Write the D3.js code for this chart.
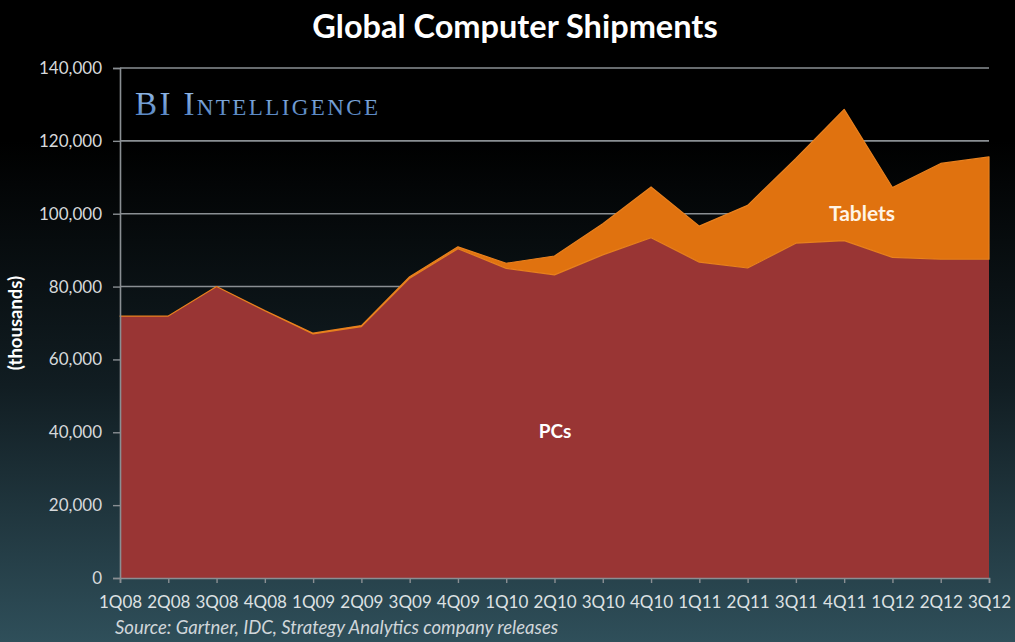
<!DOCTYPE html>
<html>
<head>
<meta charset="utf-8">
<script src="https://cdn.jsdelivr.net/npm/d3@7"></script>
<style>
  html, body { margin: 0; padding: 0; background: #000; }
  svg { display: block; }
</style>
</head>
<body>
<svg id="chart" width="1015" height="642"></svg>
<script>
// Quarterly shipments, thousands of units
const quarters = ["1Q08","2Q08","3Q08","4Q08","1Q09","2Q09","3Q09","4Q09","1Q10","2Q10",
                  "3Q10","4Q10","1Q11","2Q11","3Q11","4Q11","1Q12","2Q12","3Q12"];
const pcs     = [71900, 71900, 80000, 73400, 67000, 69000, 82300, 90400, 85000, 83200,
                 88700, 93400, 86700, 85100, 91900, 92600, 88000, 87500, 87500];
const tablets = [0, 0, 0, 0, 200, 300, 400, 500, 1400, 5200,
                 8550, 13950, 9900, 17200, 23250, 36050, 19200, 26300, 28100];
const yTicks  = [0, 20000, 40000, 60000, 80000, 100000, 120000, 140000];

const W = 1015, H = 642;
const svg = d3.select("#chart");

// background: black at the top fading into dark teal
const defs = svg.append("defs");
const bg = defs.append("linearGradient").attr("id", "bg")
  .attr("x1", 0).attr("y1", 0).attr("x2", 0).attr("y2", 1);
bg.append("stop").attr("offset", "0%").attr("stop-color", "#000000");
bg.append("stop").attr("offset", "22%").attr("stop-color", "#000000");
bg.append("stop").attr("offset", "60%").attr("stop-color", "#111d22");
bg.append("stop").attr("offset", "100%").attr("stop-color", "#2f4f5a");
svg.append("rect").attr("width", W).attr("height", H).attr("fill", "url(#bg)");

const bi = defs.append("linearGradient").attr("id", "bi")
  .attr("x1", 0).attr("y1", 0).attr("x2", 0).attr("y2", 1);
bi.append("stop").attr("offset", "0%").attr("stop-color", "#9cc2ee");
bi.append("stop").attr("offset", "100%").attr("stop-color", "#4a7bbb");

const x = d3.scalePoint().domain(quarters).range([120, 989]);
const y = d3.scaleLinear().domain([0, 140000]).range([578, 68]);

// gridlines
svg.append("g").selectAll("line").data(yTicks.filter(d => d > 0)).join("line")
  .attr("x1", 120).attr("x2", 989)
  .attr("y1", d => y(d)).attr("y2", d => y(d))
  .attr("stroke", "#8a8f93").attr("stroke-width", 1.6);

// stacked areas
const rows = quarters.map((q, i) => ({ q, PCs: pcs[i], Tablets: tablets[i] }));
const series = d3.stack().keys(["PCs", "Tablets"])(rows);
const colors = { PCs: "#993534", Tablets: "#e0720f" };
const area = d3.area()
  .x(d => x(d.data.q))
  .y0(d => y(d[0]))
  .y1(d => y(d[1]));

svg.append("g").selectAll("path").data(series).join("path")
  .attr("d", area)
  .attr("fill", d => colors[d.key])
  .attr("stroke", d => d.key === "Tablets" ? "#e8801e" : "none")
  .attr("stroke-width", 1.2)
  .attr("stroke-linejoin", "round");

// y axis
const yAxis = svg.append("g").attr("transform", "translate(120,0)")
  .call(d3.axisLeft(y).tickValues(yTicks).tickFormat(d3.format(",")).tickSize(7).tickPadding(11));
yAxis.select(".domain").attr("stroke", "#8a8f93").attr("stroke-width", 1.6);
yAxis.selectAll(".tick line").attr("stroke", "#8a8f93").attr("stroke-width", 1.4);
yAxis.selectAll("text").attr("fill", "#d6d9db")
  .style("font-family", "Lato, 'Open Sans', sans-serif").style("font-size", "17px");

// x axis
const xAxis = svg.append("g").attr("transform", "translate(0,578)")
  .call(d3.axisBottom(x).tickSize(5).tickPadding(13));
xAxis.select(".domain").attr("stroke", "#8a8f93").attr("stroke-width", 1.6);
xAxis.selectAll(".tick line").attr("stroke", "#8a8f93").attr("stroke-width", 1.4);
xAxis.selectAll("text").attr("fill", "#dde1e3")
  .style("font-family", "Lato, 'Open Sans', sans-serif").style("font-size", "17px");

// title
svg.append("text").attr("x", 515).attr("y", 38).attr("text-anchor", "middle")
  .attr("fill", "#ffffff").style("font-family", "Lato, 'Open Sans', sans-serif")
  .style("font-weight", "bold").style("font-size", "32.5px")
  .text("Global Computer Shipments");

// brand mark
svg.append("text").attr("x", 135).attr("y", 115)
  .attr("fill", "url(#bi)").style("font-family", "'Liberation Serif', 'DejaVu Serif', serif")
  .style("font-variant", "small-caps").style("font-size", "33px").style("letter-spacing", "2.4px")
  .text("BI Intelligence");

// y axis title
svg.append("text").attr("transform", "translate(22,323) rotate(-90)")
  .attr("text-anchor", "middle").attr("fill", "#ffffff")
  .style("font-family", "Lato, 'Open Sans', sans-serif").style("font-weight", "bold")
  .style("font-size", "18.5px").text("(thousands)");

// series labels
svg.append("text").attr("x", 862).attr("y", 221).attr("text-anchor", "middle")
  .attr("fill", "#fff4e6").style("font-family", "Lato, 'Open Sans', sans-serif")
  .style("font-weight", "bold").style("font-size", "21px").text("Tablets");
svg.append("text").attr("x", 555).attr("y", 438).attr("text-anchor", "middle")
  .attr("fill", "#ffffff").style("font-family", "Lato, 'Open Sans', sans-serif")
  .style("font-weight", "bold").style("font-size", "19px").text("PCs");

// source note
svg.append("text").attr("x", 115).attr("y", 634)
  .attr("fill", "#d0d6da").style("font-family", "Lato, 'Open Sans', sans-serif")
  .style("font-style", "italic").style("font-size", "18.5px")
  .text("Source: Gartner, IDC, Strategy Analytics company releases");
</script>
</body>
</html>
